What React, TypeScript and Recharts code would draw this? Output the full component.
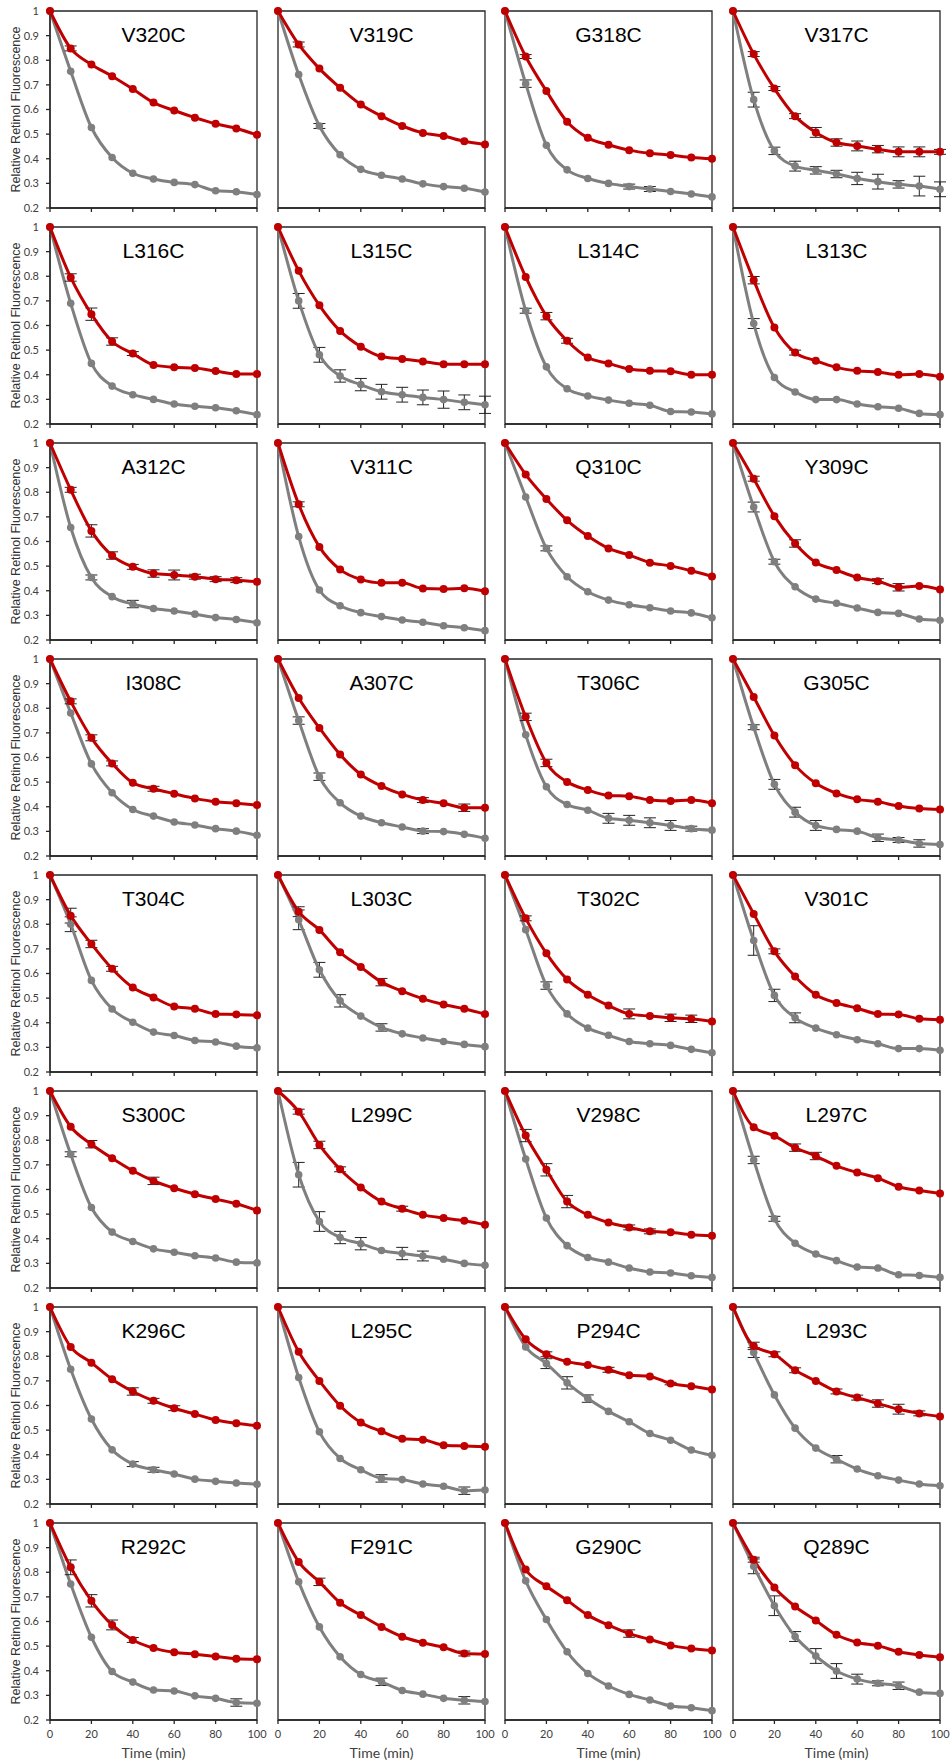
import React from "react";
import { LineChart, Line, XAxis, YAxis, ErrorBar, ReferenceArea, Label } from "recharts";

const times = [0, 10, 20, 30, 40, 50, 60, 70, 80, 90, 100];
const xTicks = [0, 20, 40, 60, 80, 100];
const yTicks = [0.2, 0.3, 0.4, 0.5, 0.6, 0.7, 0.8, 0.9, 1];

const mutants = [
  "V320C", "V319C", "G318C", "V317C",
  "L316C", "L315C", "L314C", "L313C",
  "A312C", "V311C", "Q310C", "Y309C",
  "I308C", "A307C", "T306C", "G305C",
  "T304C", "L303C", "T302C", "V301C",
  "S300C", "L299C", "V298C", "L297C",
  "K296C", "L295C", "P294C", "L293C",
  "R292C", "F291C", "G290C", "Q289C",
];

// red series, one row per mutant
const redCurves = [
  [1, 0.848, 0.783, 0.735, 0.683, 0.628, 0.596, 0.567, 0.542, 0.523, 0.497],
  [1, 0.864, 0.766, 0.688, 0.62, 0.573, 0.533, 0.505, 0.492, 0.471, 0.458],
  [1, 0.815, 0.675, 0.55, 0.485, 0.457, 0.435, 0.422, 0.415, 0.405, 0.4],
  [1, 0.825, 0.685, 0.573, 0.507, 0.466, 0.452, 0.439, 0.428, 0.428, 0.428],
  [1, 0.795, 0.646, 0.535, 0.486, 0.44, 0.43, 0.427, 0.415, 0.403, 0.403],
  [1, 0.822, 0.682, 0.578, 0.514, 0.474, 0.464, 0.454, 0.443, 0.443, 0.443],
  [1, 0.797, 0.638, 0.538, 0.47, 0.446, 0.423, 0.416, 0.414, 0.4, 0.4],
  [1, 0.784, 0.592, 0.49, 0.457, 0.43, 0.416, 0.411, 0.4, 0.403, 0.392],
  [1, 0.81, 0.643, 0.543, 0.497, 0.47, 0.464, 0.457, 0.447, 0.443, 0.437],
  [1, 0.751, 0.578, 0.486, 0.446, 0.432, 0.432, 0.409, 0.407, 0.41, 0.398],
  [1, 0.872, 0.773, 0.686, 0.622, 0.572, 0.545, 0.514, 0.501, 0.481, 0.458],
  [1, 0.855, 0.703, 0.592, 0.515, 0.484, 0.454, 0.439, 0.414, 0.419, 0.405],
  [1, 0.828, 0.68, 0.576, 0.497, 0.473, 0.453, 0.434, 0.42, 0.414, 0.407],
  [1, 0.842, 0.72, 0.612, 0.531, 0.484, 0.45, 0.427, 0.414, 0.396, 0.396],
  [1, 0.765, 0.578, 0.501, 0.468, 0.446, 0.443, 0.427, 0.423, 0.427, 0.414],
  [1, 0.846, 0.689, 0.569, 0.495, 0.454, 0.43, 0.42, 0.403, 0.393, 0.389],
  [1, 0.835, 0.72, 0.619, 0.543, 0.503, 0.466, 0.457, 0.436, 0.434, 0.43],
  [1, 0.851, 0.777, 0.686, 0.626, 0.565, 0.528, 0.497, 0.474, 0.457, 0.435],
  [1, 0.824, 0.682, 0.576, 0.514, 0.47, 0.436, 0.427, 0.42, 0.416, 0.405],
  [1, 0.842, 0.69, 0.588, 0.514, 0.48, 0.459, 0.436, 0.434, 0.416, 0.412],
  [1, 0.855, 0.784, 0.727, 0.676, 0.635, 0.605, 0.581, 0.561, 0.542, 0.515],
  [1, 0.916, 0.781, 0.682, 0.608, 0.551, 0.522, 0.497, 0.484, 0.473, 0.457],
  [1, 0.819, 0.68, 0.551, 0.497, 0.466, 0.446, 0.43, 0.426, 0.416, 0.412],
  [1, 0.853, 0.818, 0.77, 0.736, 0.696, 0.669, 0.646, 0.611, 0.596, 0.584],
  [1, 0.838, 0.774, 0.707, 0.657, 0.619, 0.589, 0.565, 0.541, 0.528, 0.518],
  [1, 0.818, 0.7, 0.599, 0.531, 0.495, 0.465, 0.461, 0.439, 0.436, 0.432],
  [1, 0.869, 0.808, 0.778, 0.764, 0.745, 0.723, 0.718, 0.689, 0.678, 0.665],
  [1, 0.842, 0.808, 0.743, 0.7, 0.657, 0.632, 0.608, 0.585, 0.568, 0.555],
  [1, 0.82, 0.684, 0.586, 0.525, 0.492, 0.475, 0.467, 0.458, 0.449, 0.447],
  [1, 0.842, 0.761, 0.676, 0.626, 0.578, 0.538, 0.514, 0.495, 0.47, 0.468],
  [1, 0.811, 0.743, 0.686, 0.626, 0.585, 0.551, 0.527, 0.503, 0.49, 0.482],
  [1, 0.851, 0.738, 0.661, 0.604, 0.546, 0.515, 0.502, 0.477, 0.464, 0.455],
];

// gray series, one row per mutant
const grayCurves = [
  [1, 0.755, 0.527, 0.405, 0.341, 0.318, 0.304, 0.295, 0.27, 0.266, 0.255],
  [1, 0.742, 0.533, 0.416, 0.357, 0.333, 0.318, 0.298, 0.287, 0.28, 0.265],
  [1, 0.705, 0.455, 0.355, 0.32, 0.3, 0.287, 0.277, 0.267, 0.257, 0.245],
  [1, 0.64, 0.432, 0.37, 0.353, 0.338, 0.32, 0.307, 0.296, 0.289, 0.276],
  [1, 0.69, 0.446, 0.354, 0.319, 0.3, 0.281, 0.272, 0.266, 0.254, 0.238],
  [1, 0.7, 0.481, 0.395, 0.36, 0.331, 0.319, 0.308, 0.299, 0.288, 0.278],
  [1, 0.66, 0.432, 0.343, 0.314, 0.297, 0.284, 0.276, 0.251, 0.249, 0.241],
  [1, 0.608, 0.389, 0.33, 0.299, 0.299, 0.281, 0.27, 0.264, 0.243, 0.238],
  [1, 0.657, 0.454, 0.376, 0.346, 0.328, 0.318, 0.305, 0.291, 0.283, 0.27],
  [1, 0.62, 0.403, 0.339, 0.311, 0.295, 0.281, 0.272, 0.258, 0.25, 0.238],
  [1, 0.781, 0.572, 0.457, 0.396, 0.362, 0.343, 0.331, 0.318, 0.31, 0.29],
  [1, 0.74, 0.518, 0.416, 0.366, 0.349, 0.33, 0.312, 0.308, 0.285, 0.28],
  [1, 0.781, 0.574, 0.457, 0.389, 0.362, 0.338, 0.326, 0.311, 0.301, 0.284],
  [1, 0.75, 0.522, 0.416, 0.362, 0.335, 0.318, 0.301, 0.299, 0.288, 0.272],
  [1, 0.692, 0.481, 0.409, 0.386, 0.353, 0.345, 0.335, 0.324, 0.311, 0.305],
  [1, 0.723, 0.491, 0.378, 0.324, 0.308, 0.301, 0.274, 0.265, 0.251, 0.247],
  [1, 0.8, 0.572, 0.456, 0.402, 0.362, 0.348, 0.328, 0.322, 0.305, 0.298],
  [1, 0.818, 0.615, 0.489, 0.427, 0.381, 0.355, 0.338, 0.324, 0.312, 0.303],
  [1, 0.778, 0.551, 0.436, 0.378, 0.349, 0.324, 0.315, 0.308, 0.292, 0.278],
  [1, 0.734, 0.511, 0.42, 0.378, 0.351, 0.331, 0.315, 0.295, 0.295, 0.288],
  [1, 0.743, 0.527, 0.427, 0.389, 0.359, 0.345, 0.331, 0.322, 0.305, 0.302],
  [1, 0.66, 0.47, 0.405, 0.38, 0.352, 0.34, 0.33, 0.317, 0.3, 0.292],
  [1, 0.724, 0.484, 0.372, 0.324, 0.305, 0.281, 0.265, 0.261, 0.25, 0.243],
  [1, 0.72, 0.481, 0.382, 0.338, 0.311, 0.285, 0.281, 0.254, 0.251, 0.243],
  [1, 0.747, 0.545, 0.42, 0.362, 0.339, 0.322, 0.301, 0.292, 0.285, 0.28],
  [1, 0.714, 0.493, 0.385, 0.339, 0.304, 0.299, 0.281, 0.272, 0.254, 0.257],
  [1, 0.838, 0.77, 0.692, 0.628, 0.576, 0.534, 0.486, 0.459, 0.419, 0.398],
  [1, 0.815, 0.643, 0.508, 0.427, 0.382, 0.342, 0.315, 0.297, 0.281, 0.274],
  [1, 0.752, 0.536, 0.397, 0.354, 0.322, 0.318, 0.298, 0.288, 0.271, 0.268],
  [1, 0.761, 0.578, 0.457, 0.385, 0.355, 0.32, 0.305, 0.288, 0.28, 0.275],
  [1, 0.765, 0.608, 0.477, 0.389, 0.338, 0.304, 0.281, 0.257, 0.25, 0.238],
  [1, 0.824, 0.664, 0.539, 0.46, 0.399, 0.366, 0.349, 0.339, 0.313, 0.308],
];

const redErrors = [
  [0, 0.01, 0, 0, 0, 0, 0, 0, 0, 0, 0],
  [0, 0.01, 0, 0, 0, 0, 0, 0, 0, 0, 0],
  [0, 0.008, 0, 0, 0, 0, 0, 0, 0, 0, 0],
  [0, 0.01, 0.008, 0.01, 0.02, 0.015, 0.02, 0.015, 0.02, 0.02, 0.01],
  [0, 0.015, 0.025, 0.015, 0.008, 0, 0, 0, 0, 0, 0],
  [0, 0, 0, 0, 0, 0, 0, 0, 0, 0, 0],
  [0, 0, 0.015, 0.01, 0, 0, 0, 0, 0, 0, 0],
  [0, 0.015, 0, 0.01, 0, 0, 0, 0, 0, 0, 0],
  [0, 0.01, 0.025, 0.015, 0.01, 0.015, 0.02, 0.01, 0.01, 0.01, 0],
  [0, 0.01, 0, 0, 0, 0, 0, 0, 0, 0, 0],
  [0, 0, 0, 0, 0, 0, 0, 0, 0, 0, 0],
  [0, 0.01, 0, 0.015, 0, 0, 0, 0.01, 0.015, 0, 0],
  [0, 0.01, 0.012, 0.01, 0, 0.01, 0, 0, 0, 0, 0],
  [0, 0, 0, 0, 0, 0, 0, 0.01, 0, 0.015, 0],
  [0, 0.015, 0.015, 0, 0, 0, 0, 0, 0, 0, 0],
  [0, 0, 0, 0, 0, 0, 0, 0, 0, 0, 0],
  [0, 0.03, 0.015, 0.01, 0, 0, 0, 0, 0, 0, 0],
  [0, 0.02, 0, 0, 0, 0.015, 0, 0, 0, 0, 0],
  [0, 0.01, 0, 0, 0, 0, 0.02, 0, 0.015, 0.015, 0],
  [0, 0, 0.01, 0, 0, 0, 0, 0, 0, 0, 0],
  [0, 0, 0.015, 0, 0, 0.015, 0, 0, 0, 0, 0],
  [0, 0.01, 0.015, 0.01, 0, 0, 0.01, 0, 0, 0, 0],
  [0, 0.025, 0.025, 0.025, 0, 0, 0.01, 0.01, 0, 0, 0],
  [0, 0, 0, 0.015, 0.015, 0, 0, 0, 0, 0, 0],
  [0, 0, 0, 0, 0.015, 0.01, 0.01, 0, 0, 0, 0],
  [0, 0, 0, 0, 0, 0, 0, 0, 0, 0, 0],
  [0, 0, 0.01, 0, 0, 0.01, 0, 0, 0.005, 0, 0],
  [0, 0.015, 0.01, 0.01, 0, 0.01, 0.01, 0.015, 0.02, 0.01, 0],
  [0, 0.03, 0.025, 0.02, 0.01, 0, 0, 0, 0, 0, 0],
  [0, 0, 0.015, 0, 0, 0, 0, 0, 0, 0.01, 0],
  [0, 0, 0, 0, 0, 0, 0.015, 0, 0, 0, 0],
  [0, 0.01, 0, 0, 0, 0, 0, 0, 0, 0, 0],
];

const grayErrors = [
  [0, 0, 0, 0, 0, 0, 0, 0, 0, 0, 0],
  [0, 0, 0.01, 0, 0, 0, 0, 0, 0, 0, 0],
  [0, 0.015, 0, 0, 0, 0, 0.01, 0.01, 0, 0, 0],
  [0, 0.03, 0.015, 0.02, 0.015, 0.015, 0.025, 0.03, 0.015, 0.04, 0.03],
  [0, 0, 0, 0, 0, 0, 0, 0, 0, 0, 0],
  [0, 0.03, 0.03, 0.025, 0.025, 0.03, 0.03, 0.03, 0.035, 0.03, 0.035],
  [0, 0.01, 0, 0, 0, 0, 0, 0, 0, 0, 0],
  [0, 0.02, 0, 0, 0, 0, 0, 0, 0, 0, 0],
  [0, 0, 0.01, 0, 0.015, 0, 0, 0, 0, 0, 0],
  [0, 0, 0, 0, 0, 0, 0, 0, 0, 0, 0],
  [0, 0, 0.01, 0, 0, 0, 0, 0, 0, 0, 0],
  [0, 0.02, 0.01, 0, 0, 0, 0, 0, 0, 0, 0],
  [0, 0, 0, 0, 0, 0, 0, 0, 0, 0, 0],
  [0, 0.015, 0.015, 0, 0, 0, 0, 0.01, 0, 0, 0],
  [0, 0, 0, 0, 0, 0.02, 0.02, 0.02, 0.02, 0.01, 0],
  [0, 0.01, 0.02, 0.02, 0.02, 0, 0, 0.015, 0.01, 0.015, 0],
  [0, 0.03, 0, 0, 0, 0, 0, 0, 0, 0, 0],
  [0, 0.04, 0.03, 0.025, 0, 0.015, 0, 0, 0, 0, 0],
  [0, 0, 0.015, 0, 0, 0, 0, 0, 0, 0, 0],
  [0, 0.06, 0.025, 0.02, 0, 0, 0, 0, 0, 0, 0],
  [0, 0.01, 0, 0, 0, 0, 0, 0, 0, 0, 0],
  [0, 0.05, 0.04, 0.025, 0.025, 0, 0.025, 0.02, 0, 0, 0],
  [0, 0, 0, 0, 0, 0, 0, 0, 0, 0, 0],
  [0, 0.015, 0.01, 0, 0, 0, 0, 0, 0, 0, 0],
  [0, 0, 0, 0, 0.01, 0.01, 0, 0, 0, 0, 0],
  [0, 0, 0, 0, 0, 0.015, 0, 0, 0, 0.015, 0],
  [0, 0, 0.02, 0.025, 0.015, 0, 0, 0, 0, 0, 0],
  [0, 0.02, 0, 0, 0, 0.015, 0, 0, 0, 0, 0],
  [0, 0, 0, 0, 0, 0, 0, 0, 0, 0.015, 0],
  [0, 0, 0, 0, 0, 0.015, 0, 0, 0, 0.015, 0],
  [0, 0, 0, 0, 0, 0, 0, 0, 0, 0, 0],
  [0, 0.03, 0.04, 0.02, 0.03, 0.03, 0.02, 0.01, 0.015, 0, 0],
];

const RED = "#C00000";
const GRAY = "#7F7F7F";
const AXIS = "#262626";
const TICK_FONT = "Lato, 'Open Sans', sans-serif";

const PLOT_W = 207;
const PLOT_H = 197;
const colLeft = (c: number) => 50 + c * 227.5;
const rowTop = (r: number) => 11 + r * 216.05;

function YTitle(props: any) {
  const vb = props.viewBox;
  const x = vb.x + 16;
  const y = vb.y + vb.height / 2;
  return (
    <text
      x={x}
      y={y}
      transform={`rotate(-90, ${x}, ${y})`}
      textAnchor="middle"
      dominantBaseline="central"
      fontFamily="'Liberation Sans', Arial, sans-serif"
      fontSize={12.5}
      fill="#333"
    >
      Relative Retinol Fluorescence
    </text>
  );
}

function XTitle(props: any) {
  const vb = props.viewBox;
  return (
    <text
      x={vb.x + vb.width / 2}
      y={vb.y + 32}
      textAnchor="middle"
      dominantBaseline="central"
      fontFamily={TICK_FONT}
      fontSize={14}
      fill="#404040"
    >
      Time (min)
    </text>
  );
}

function Panel({ index }: { index: number }) {
  const row = Math.floor(index / 4);
  const col = index % 4;
  const first = col === 0;
  const last = row === 7;
  const padL = first ? 50 : 10;
  const padT = 6;
  const padR = last ? 12 : 7;
  const padB = last ? 44 : 10;

  const data = times.map((t, i) => ({
    t,
    red: redCurves[index][i],
    redErr: redErrors[index][i],
    gray: grayCurves[index][i],
    grayErr: grayErrors[index][i],
  }));

  return (
    <div style={{ position: "absolute", left: colLeft(col) - padL, top: rowTop(row) - padT }}>
      <LineChart
        width={padL + PLOT_W + padR}
        height={padT + PLOT_H + padB}
        data={data}
        margin={{ top: padT, right: padR, bottom: 0, left: first ? 0 : padL }}
      >
        <XAxis
          dataKey="t"
          type="number"
          domain={[0, 100]}
          ticks={xTicks}
          height={padB}
          stroke={AXIS}
          strokeWidth={1.3}
          tickSize={4}
          tickMargin={6}
          tick={{ fill: "#404040", fontSize: 11, fontFamily: TICK_FONT }}
          tickFormatter={(v: number) => (last ? String(v) : "")}
        >
          {last && <Label content={XTitle} />}
        </XAxis>
        <YAxis
          type="number"
          domain={[0.2, 1]}
          ticks={yTicks}
          width={first ? 50 : 0}
          stroke={AXIS}
          strokeWidth={1.3}
          tickSize={4}
          tickMargin={7}
          tick={{ fill: "#404040", fontSize: 11, fontFamily: TICK_FONT }}
          tickFormatter={(v: number) => (first ? String(Number(v.toFixed(1))) : "")}
        >
          {first && <Label content={YTitle} />}
        </YAxis>
        <ReferenceArea
          x1={0}
          x2={100}
          y1={0.2}
          y2={1}
          fill="none"
          stroke={AXIS}
          strokeWidth={1.3}
          label={{
            value: mutants[index],
            position: "insideTop",
            offset: 16,
            fontSize: 21,
            fill: "#000",
            fontFamily: "'Liberation Sans', Arial, sans-serif",
          }}
        />
        <Line
          type="monotone"
          dataKey="gray"
          stroke={GRAY}
          strokeWidth={3}
          dot={{ r: 3.8, fill: GRAY, stroke: "none" }}
          activeDot={false}
          isAnimationActive={false}
        >
          <ErrorBar dataKey="grayErr" direction="y" width={6} stroke="#222" strokeWidth={1} />
        </Line>
        <Line
          type="monotone"
          dataKey="red"
          stroke={RED}
          strokeWidth={3}
          dot={{ r: 4, fill: RED, stroke: "none" }}
          activeDot={false}
          isAnimationActive={false}
        >
          <ErrorBar dataKey="redErr" direction="y" width={6} stroke="#222" strokeWidth={1} />
        </Line>
      </LineChart>
    </div>
  );
}

export default function App() {
  return (
    <div style={{ position: "absolute", left: 0, top: 0, width: 950, height: 1763, background: "#fff" }}>
      {mutants.map((m, i) => (
        <Panel key={m} index={i} />
      ))}
    </div>
  );
}
